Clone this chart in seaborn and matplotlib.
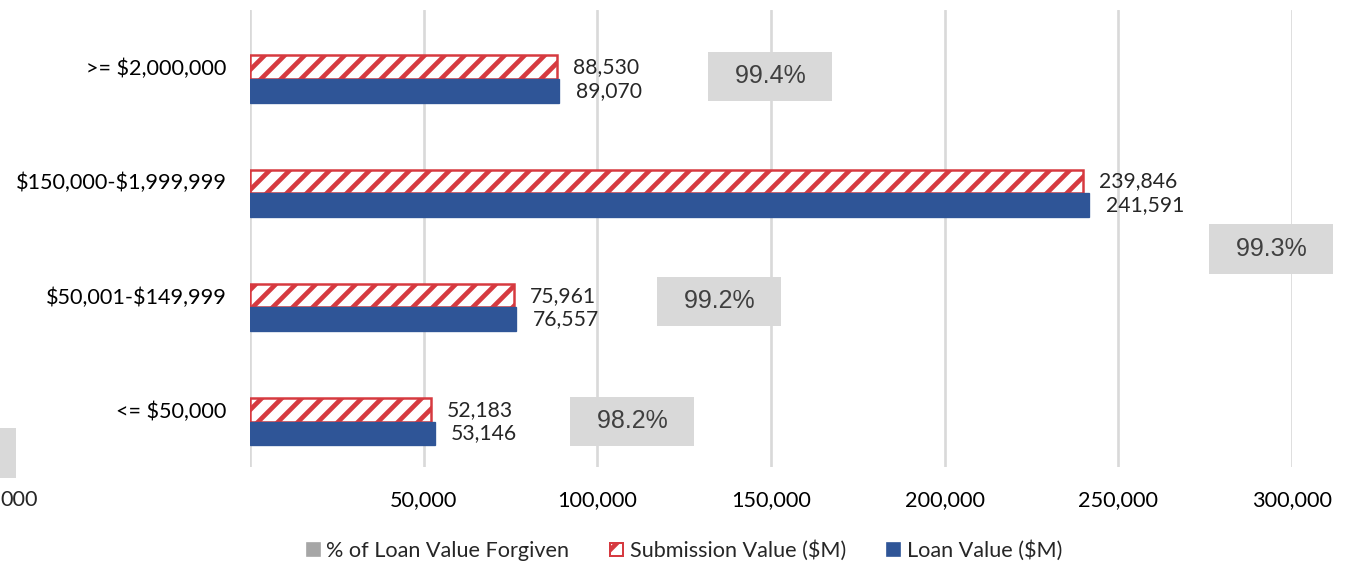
import pandas as pd
import seaborn as sns
import matplotlib.pyplot as plt
from matplotlib.patches import Patch, Rectangle

# Data
bands = [">= $2,000,000", "$150,000-$1,999,999", "$50,001-$149,999", "<= $50,000"]
submission = [88530, 239846, 75961, 52183]
loan = [89070, 241591, 76557, 53146]
forgiven_pct = [99.4, 99.3, 99.2, 98.2]

PCT = "% of Loan Value Forgiven"
SUB = "Submission Value ($M)"
LOAN = "Loan Value ($M)"

df = pd.DataFrame({
    "band": bands * 3,
    "series": [PCT] * 4 + [SUB] * 4 + [LOAN] * 4,
    "value": [p / 100 for p in forgiven_pct] + submission + loan,
})

RED = "#d63a40"
BLUE = "#2f5597"
GRID = "#d9d9d9"

sns.set_style("white")
plt.rcParams["font.family"] = ["Lato", "DejaVu Sans"]
plt.rcParams["text.parse_math"] = False
plt.rcParams["hatch.color"] = RED
plt.rcParams["hatch.linewidth"] = 2.8

DPI = 120
fig = plt.figure(figsize=(1355 / DPI, 562 / DPI), dpi=DPI)
ax = fig.add_axes([250 / 1355, 95 / 562, 1042 / 1355, 457 / 562])

sns.barplot(data=df, y="band", x="value", hue="series", hue_order=[PCT, SUB, LOAN],
            order=bands, orient="h", width=0.62, errorbar=None, saturation=1,
            palette={PCT: "#a6a6a6", SUB: "white", LOAN: BLUE}, legend=False, ax=ax)

pct_bars, sub_bars, loan_bars = ax.containers
for p in pct_bars:
    p.set_visible(False)
for p in sub_bars:
    p.set_facecolor("white")
    p.set_edgecolor(RED)
    p.set_hatch("//")
    p.set_linewidth(1.5)
for p in loan_bars:
    p.set_edgecolor(BLUE)
    p.set_linewidth(0.8)

ax.bar_label(sub_bars, labels=[f"{v:,}" for v in submission], padding=9.5, fontsize=12.7)
ax.bar_label(loan_bars, labels=[f"{v:,}" for v in loan], padding=10, fontsize=12.7)

# percentage labels (floating boxes as in the original)
pct_pos = [(149700, 0.08), (294000, 1.59), (135000, 2.05), (110000, 3.10)]
for (x, y), v in zip(pct_pos, forgiven_pct):
    ax.text(x, y, f"  {v}%  ", ha="center", va="center", fontsize=15,
            family="Liberation Sans", color="#404040",
            bbox=dict(boxstyle="square,pad=0.51", fc=GRID, ec="none"))

ax.set_xlim(0, 300000)
ticks = list(range(0, 300001, 50000))
ax.set_xticks(ticks)
ax.set_xticklabels([""] + [f"{t:,}" for t in ticks[1:]])
ax.xaxis.grid(True, color=GRID, linewidth=1.6)
ax.set_axisbelow(True)
ax.tick_params(axis="x", length=0, pad=14, labelsize=13, colors="black")
ax.tick_params(axis="y", length=0, pad=14, labelsize=13, colors="black")
ax.set_xlabel("")
ax.set_ylabel("")
for s in ax.spines.values():
    s.set_visible(False)

# cut-off bits at the left edge
fig.text(0, 62 / 562, "000", ha="left", va="center", fontsize=13)
fig.patches.append(Rectangle((0, 84 / 562), 16 / 1355, 50 / 562, transform=fig.transFigure,
                             fc=GRID, ec="none"))

handles = [
    Patch(facecolor="#a6a6a6", edgecolor="#a6a6a6", label=PCT),
    Patch(facecolor="white", edgecolor=RED, hatch="//", linewidth=1.2, label=SUB),
    Patch(facecolor=BLUE, edgecolor=BLUE, label=LOAN),
]
fig.legend(handles=handles, loc="center", bbox_to_anchor=(0.505, 0.02), ncol=3,
           frameon=False, fontsize=13, handlelength=0.6, handleheight=0.6,
           handletextpad=0.3, columnspacing=1.9)

fig.savefig("out.png", dpi=DPI)
